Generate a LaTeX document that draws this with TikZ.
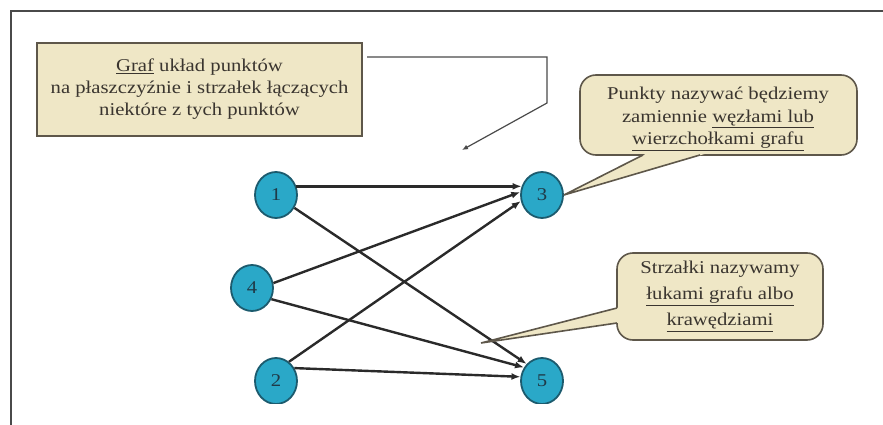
\documentclass[tikz,border=0pt]{standalone}
\usepackage{fontspec}
\setmainfont{Liberation Serif}[FakeStretch=1.15]
\usetikzlibrary{shapes.geometric,arrows.meta}
\definecolor{beige}{HTML}{EFE7C6}
\definecolor{boxline}{HTML}{5E574A}
\definecolor{nodefill}{HTML}{2AA8C8}
\definecolor{nodeline}{HTML}{1C5B6E}
\definecolor{nodetext}{HTML}{1F3A48}
\definecolor{txtcol}{HTML}{3A352F}
\definecolor{edgecol}{HTML}{2A2A2A}
\definecolor{framecol}{HTML}{4A4A4A}
\begin{document}
\begin{tikzpicture}[x=1pt,y=-1pt,
  vertex/.style={ellipse,draw=nodeline,line width=1.8pt,fill=nodefill,minimum width=42pt,minimum height=46pt,inner sep=0pt,font=\fontsize{18}{18}\selectfont,text=nodetext},
  edge/.style={draw=edgecol,line width=2.4pt,-{Latex[length=9pt,width=7pt]}},
  txt/.style={align=center,text=txtcol,inner sep=0pt},
  calloutbox/.style={fill=beige,draw=boxline,line width=1.6pt,rounded corners=16pt},
  tailline/.style={draw=boxline,line width=1.6pt},
  pointer/.style={draw=framecol,line width=1.2pt,-{Latex[length=6pt,width=5pt]}}]
\useasboundingbox (0,0) rectangle (883,425);
% frame
\draw[framecol,line width=1.5pt] (11,425) -- (11,11) -- (883,11);
% definition box
\node[draw=boxline,fill=beige,line width=2pt,minimum width=325pt,minimum height=93pt,inner sep=0pt,
      txt,font=\fontsize{18}{22}\selectfont] (box) at (199.5,89.5)
  {\underline{Graf} układ punktów\\na płaszczyźnie i strzałek łączących\\niektóre z tych punktów};
% pointer from box
\coordinate (k0) at (367,57);
\coordinate (k1) at (547,57);
\coordinate (k2) at (547,103);
\coordinate (k3) at (462,150);
\draw[pointer] (k0) -- (k1) -- (k2) -- (k3);
% graph
\begin{scope}
\clip (0,0) rectangle (883,403);
\node[vertex] (n1) at (276,195) {1};
\node[vertex] (n3) at (542,195) {3};
\node[vertex] (n4) at (252,288) {4};
\node[vertex] (n2) at (276,381) {2};
\node[vertex] (n5) at (542,381) {5};
\draw[edge] (n1.23) -- (n3.157);
\draw[edge] (n1.-35) -- (n5.132);
\draw[edge] (n4.13) -- (n3.172);
\draw[edge] (n4.-30) -- (n5.143);
\draw[edge] (n2.56) -- (n3.196);
\draw[edge] (n2.35) -- (n5.169);
\end{scope}
% callout 1
\draw[calloutbox] (580,75) rectangle (857,155);
\coordinate (tip1) at (n3.east);
\fill[beige] (tip1) -- (649.7,152) -- (711.4,152) -- cycle;
\draw[tailline] (643,155) -- (tip1) -- (700,155);
\node[txt,font=\fontsize{18}{22.5}\selectfont] (c1) at (718,119)
  {Punkty nazywać będziemy\\zamiennie \underline{węzłami lub}\\\underline{wierzchołkami grafu}};
% callout 2
\draw[calloutbox] (617,253) rectangle (823,340);
\coordinate (tip2) at (481,343);
\fill[beige] (tip2) -- (620,307.2) -- (620,322.5) -- cycle;
\draw[tailline] (617,308) -- (tip2) -- (617,323);
\node[txt,font=\fontsize{18}{26}\selectfont] (c2) at (720,296.5)
  {Strzałki nazywamy\\\underline{łukami grafu albo}\\\underline{krawędziami}};
\end{tikzpicture}
\end{document}
